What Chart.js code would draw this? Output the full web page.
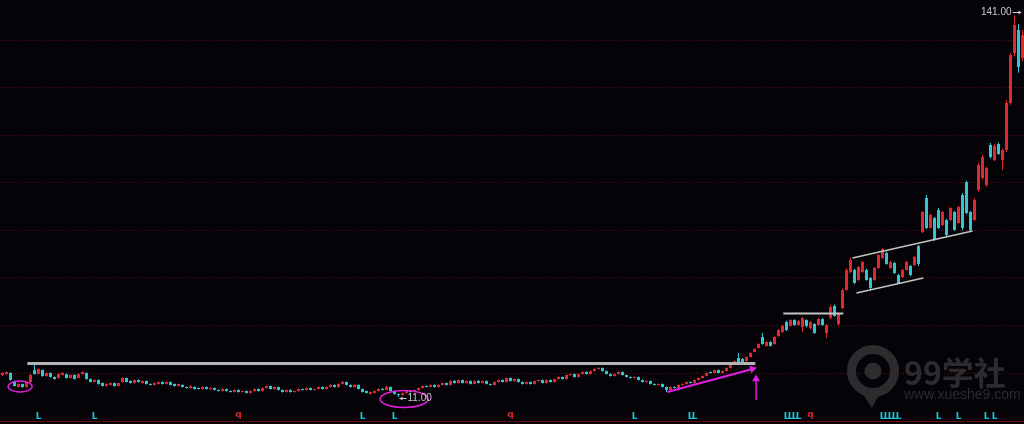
<!DOCTYPE html>
<html>
<head>
<meta charset="utf-8">
<script src="https://cdn.jsdelivr.net/npm/chart.js@4.4.1/dist/chart.umd.min.js"></script>
<style>
  html, body { margin: 0; padding: 0; background: #050308; }
  #wrap { width: 1024px; height: 424px; }
</style>
</head>
<body>
<div id="wrap"><canvas id="kline"></canvas></div>
<script>
// candle prices, one entry per bar (log price axis)
const opens = [
  12.74,12.82,12.91,12.24,11.76,12.00,11.76,12.16,13.17,12.82,
  13.17,12.66,12.91,12.57,12.49,12.74,12.82,12.49,12.74,12.49,
  12.82,12.91,12.40,12.16,12.32,12.08,11.84,11.92,12.08,11.84,
  12.16,12.49,12.24,12.08,12.32,12.08,12.24,12.00,11.92,12.00,
  12.16,12.00,12.16,12.00,11.84,11.92,11.76,11.68,11.76,11.68,
  11.60,11.76,11.60,11.68,11.53,11.45,11.60,11.45,11.37,11.53,
  11.37,11.45,11.30,11.45,11.60,11.45,11.68,11.84,11.60,11.76,
  11.53,11.37,11.53,11.37,11.45,11.60,11.53,11.68,11.53,11.60,
  11.76,11.60,11.76,11.92,11.76,12.00,12.16,11.92,11.76,11.92,
  11.60,11.45,11.22,11.30,11.45,11.60,11.53,11.76,11.45,11.22,
  11.15,11.30,11.45,11.37,11.53,11.68,11.84,11.76,11.92,11.76,
  11.92,12.08,11.92,12.24,12.08,12.32,12.08,12.24,12.00,12.24,
  12.08,12.24,12.00,11.92,12.16,12.32,12.16,12.49,12.24,12.40,
  12.16,12.00,12.16,12.00,12.24,12.32,12.08,12.32,12.16,12.40,
  12.57,12.40,12.74,12.82,12.57,12.82,13.00,12.82,13.08,13.26,
  13.35,13.08,12.82,12.66,12.82,13.00,12.74,12.57,12.49,12.57,
  12.32,12.16,12.24,12.00,11.92,12.00,11.76,11.53,11.76,11.68,
  11.92,12.00,12.16,12.08,12.32,12.49,12.66,13.00,12.91,13.17,
  12.91,13.08,13.35,13.71,14.27,14.18,13.98,14.37,14.86,15.26,
  16.42,15.46,15.88,15.67,16.53,16.98,18.15,17.68,18.40,17.79,
  17.56,18.40,17.44,17.91,17.79,18.52,16.87,18.65,20.20,17.91,
  19.93,22.48,25.35,25.69,24.03,25.35,25.69,24.36,24.03,26.04,
  27.84,28.78,26.04,26.92,24.85,24.52,25.69,26.39,26.57,30.16,
  33.12,41.56,34.01,36.37,38.36,34.70,35.88,35.88,37.85,35.17,
  42.40,46.25,37.85,35.88,43.85,47.50,45.33,59.22,53.58,59.62,
  53.58,57.28,78.40,109.5,127.7,105.9
]
const highs = [
  12.98,13.05,12.95,12.28,12.05,12.04,12.20,12.80,13.78,13.32,
  13.22,12.96,12.95,12.62,12.88,12.98,12.86,12.78,12.78,12.88,
  13.06,12.95,12.44,12.36,12.36,12.12,12.04,12.12,12.12,12.12,
  12.57,12.53,12.28,12.36,12.36,12.28,12.28,12.04,12.12,12.20,
  12.20,12.20,12.20,12.04,12.04,11.96,11.80,11.88,11.80,11.72,
  11.80,11.80,11.74,11.72,11.57,11.64,11.64,11.49,11.57,11.57,
  11.49,11.49,11.49,11.64,11.64,11.72,11.88,11.88,11.80,11.80,
  11.57,11.57,11.57,11.49,11.64,11.64,11.72,11.72,11.64,11.80,
  11.80,11.80,11.96,11.96,12.04,12.24,12.20,11.96,11.96,11.96,
  11.64,11.49,11.41,11.49,11.64,11.68,11.84,11.80,11.49,11.26,
  11.34,11.49,11.49,11.57,11.72,11.88,11.88,11.96,11.96,11.96,
  12.12,12.12,12.28,12.32,12.36,12.36,12.28,12.28,12.28,12.32,
  12.28,12.28,12.04,12.20,12.36,12.36,12.53,12.53,12.44,12.44,
  12.20,12.20,12.20,12.28,12.36,12.36,12.36,12.36,12.44,12.62,
  12.62,12.78,12.88,12.86,12.86,13.04,13.04,13.12,13.32,13.42,
  13.40,13.12,12.86,12.86,13.04,13.04,12.78,12.62,12.62,12.62,
  12.36,12.28,12.28,12.04,12.04,12.04,11.80,11.80,11.80,11.96,
  12.04,12.20,12.20,12.36,12.53,12.70,12.95,13.04,13.22,13.22,
  13.12,13.40,13.76,14.04,14.76,14.27,14.42,14.80,15.22,15.75,
  16.87,15.98,15.95,16.50,17.30,17.80,18.35,18.50,18.50,18.40,
  18.75,18.50,18.25,18.00,18.65,18.60,17.90,20.33,20.40,19.25,
  22.70,26.00,27.84,25.90,26.40,27.30,25.90,24.50,26.20,28.60,
  29.75,29.00,27.30,27.10,25.00,25.85,27.30,26.55,28.20,30.37,
  38.10,42.40,37.40,36.60,38.90,38.10,36.10,39.10,38.10,39.40,
  43.00,46.60,38.10,41.50,52.50,55.40,51.20,60.00,59.60,60.20,
  57.80,80.00,109.5,141.0,133.0,127.7
]
const lows = [
  12.66,12.78,12.28,11.80,11.72,11.70,11.72,12.12,12.78,12.78,
  12.60,12.62,12.53,12.36,12.45,12.70,12.45,12.44,12.36,12.45,
  12.78,12.36,12.12,12.12,11.96,11.80,11.80,11.88,11.80,11.80,
  12.12,12.12,12.04,12.04,12.12,12.04,11.96,11.88,11.88,11.96,
  11.96,11.96,11.88,11.80,11.80,11.72,11.64,11.64,11.56,11.56,
  11.56,11.56,11.56,11.49,11.41,11.41,11.41,11.33,11.33,11.33,
  11.33,11.26,11.26,11.41,11.41,11.41,11.64,11.56,11.56,11.49,
  11.33,11.33,11.33,11.33,11.41,11.49,11.49,11.49,11.49,11.56,
  11.56,11.56,11.72,11.72,11.72,11.96,11.88,11.72,11.72,11.56,
  11.33,11.26,11.18,11.26,11.41,11.49,11.49,11.41,11.18,11.00,
  11.10,11.26,11.33,11.33,11.49,11.64,11.72,11.72,11.72,11.72,
  11.88,11.88,11.88,12.04,12.04,12.04,12.04,11.96,11.96,12.04,
  12.04,11.96,11.88,11.88,12.12,12.12,12.12,12.20,12.20,12.12,
  11.96,11.96,11.96,11.96,12.20,12.04,12.04,12.12,12.12,12.36,
  12.36,12.36,12.70,12.53,12.53,12.78,12.78,12.78,13.04,13.22,
  13.04,12.78,12.62,12.62,12.78,12.70,12.53,12.45,12.45,12.28,
  12.12,12.12,11.96,11.88,11.88,11.72,11.37,11.49,11.64,11.64,
  11.88,11.96,12.04,12.04,12.28,12.45,12.62,12.86,12.86,12.86,
  12.86,13.04,13.30,13.66,13.84,13.84,13.94,14.32,14.80,15.20,
  15.60,15.40,15.40,15.60,16.45,16.90,17.10,17.60,17.70,17.70,
  16.98,17.50,17.30,16.75,17.70,17.68,16.31,18.50,18.80,17.70,
  19.80,22.40,25.20,23.40,23.90,25.20,23.90,22.48,23.90,25.90,
  27.70,26.60,25.90,25.00,23.50,24.40,25.60,24.70,26.40,26.39,
  32.90,33.80,33.90,31.20,33.80,34.50,32.00,35.70,33.40,35.00,
  33.56,37.30,33.12,35.60,43.30,47.00,44.73,54.00,53.20,55.50,
  50.11,56.50,77.50,107.0,96.0,104.0
]
const closes = [
  12.91,13.00,12.32,11.84,12.00,11.76,12.16,12.74,12.82,13.26,
  12.66,12.91,12.57,12.40,12.82,12.91,12.49,12.74,12.40,12.82,
  13.00,12.40,12.16,12.32,12.00,11.84,12.00,12.08,11.84,12.08,
  12.49,12.16,12.08,12.32,12.16,12.24,12.00,11.92,12.08,12.16,
  12.00,12.16,11.92,11.84,12.00,11.76,11.68,11.84,11.60,11.60,
  11.76,11.60,11.68,11.53,11.45,11.60,11.45,11.37,11.53,11.37,
  11.45,11.30,11.45,11.60,11.45,11.68,11.84,11.60,11.76,11.53,
  11.37,11.53,11.37,11.45,11.60,11.53,11.68,11.53,11.60,11.76,
  11.60,11.76,11.92,11.76,12.00,12.16,11.92,11.76,11.92,11.60,
  11.37,11.30,11.37,11.45,11.60,11.53,11.76,11.45,11.22,11.15,
  11.30,11.45,11.37,11.53,11.68,11.84,11.76,11.92,11.76,11.92,
  12.08,11.92,12.24,12.08,12.32,12.08,12.24,12.00,12.24,12.08,
  12.24,12.00,11.92,12.16,12.32,12.16,12.49,12.24,12.40,12.16,
  12.00,12.16,12.00,12.24,12.32,12.08,12.32,12.16,12.40,12.57,
  12.40,12.74,12.82,12.57,12.82,13.00,12.82,13.08,13.26,13.35,
  13.08,12.82,12.66,12.82,13.00,12.74,12.57,12.49,12.57,12.32,
  12.16,12.24,12.00,11.92,12.00,11.76,11.53,11.76,11.68,11.92,
  12.00,12.16,12.08,12.32,12.49,12.66,12.91,12.91,13.17,12.91,
  13.08,13.35,13.71,13.98,13.89,13.89,14.37,14.76,15.16,15.67,
  15.67,15.88,15.46,16.42,17.21,17.68,17.21,18.40,17.79,18.28,
  18.65,17.68,18.15,16.87,18.52,17.79,17.79,20.07,18.90,19.15,
  22.48,25.69,27.47,23.56,26.22,27.11,24.03,22.78,26.04,28.40,
  29.56,26.75,27.11,25.18,23.56,25.69,27.11,24.85,28.03,26.75,
  37.85,34.01,37.10,31.40,34.01,37.85,32.46,38.88,33.56,39.14,
  34.01,37.60,33.56,41.01,51.82,54.66,50.78,54.66,58.83,55.77,
  57.28,78.40,108.0,132.0,99.7,123.5
]

// price axis (log) range and its dotted grid levels
const yMin = 9.37
const yMax = 156.0
const gridPrices = [12.91, 17.74, 24.37, 33.49, 46.02, 63.23, 86.88, 119.4]

// hand-drawn annotations, as [candle index, price]
const supportLine = [[6.2, 13.76], [188.2, 13.76]]
const boxTopLine = [[195.2, 19.21], [210.2, 19.21]]
const channelUpper = [[212.5, 27.84], [242.5, 33.34]]
const channelLower = [[213.5, 22.04], [230.2, 24.36]]
const trendArrow = [[166.2, 11.37], [187.5, 13.26]]
const breakoutArrow = [[188.4, 10.78], [188.4, 12.41]]
const rings = [[4.4, 11.80], [100.4, 10.85]]

// signal marks along the bottom
const signalL = [9, 23, 90, 98, 158, 172, 173, 196, 197, 198, 199, 220, 221, 222, 223, 224, 234, 239, 246, 248]
const signalQ = [59, 127, 202]

const UP = '#dc2a33'
const DOWN = '#38c4cc'
const MAGENTA = '#e41ee4'
const WHITE_LINE = '#c4c4c4'
const ringSize = [[12, 5.5], [24, 8.5]]

const bodies = opens.map((o, i) => ({ x: i, y: [o, closes[i]] }))
const wicks = lows.map((l, i) => ({ x: i, y: [l, highs[i]] }))
const candleColor = ctx => closes[ctx.dataIndex] >= opens[ctx.dataIndex] ? UP : DOWN

function lineSet(points, color, width, arrowRot) {
  return {
    type: 'line',
    data: points.map(p => ({ x: p[0], y: p[1] })),
    borderColor: color,
    borderWidth: width,
    pointRadius: arrowRot == null ? 0 : [0, 4.5],
    pointStyle: 'triangle',
    pointRotation: arrowRot || 0,
    pointBackgroundColor: color,
    pointBorderColor: color,
    pointBorderWidth: 0,
    order: 1
  }
}

const decor = {
  id: 'decor',
  beforeDatasetsDraw(chart) {
    const { ctx, chartArea: a } = chart
    const cx = a.right - 151, cy = a.bottom - 50
    ctx.save()
    ctx.fillStyle = '#2c2c2e'
    ctx.strokeStyle = '#2c2c2e'
    ctx.lineWidth = 9
    ctx.beginPath(); ctx.arc(cx, cy, 21.5, 0, Math.PI * 2); ctx.stroke()
    ctx.beginPath(); ctx.arc(cx, cy, 8.5, 0, Math.PI * 2); ctx.fill()
    ctx.beginPath(); ctx.moveTo(cx - 13, cy + 19); ctx.lineTo(cx + 6, cy + 24); ctx.lineTo(cx - 1, cy + 37); ctx.closePath(); ctx.fill()
    ctx.textAlign = 'left'
    ctx.textBaseline = 'alphabetic'
    ctx.font = 'bold 32px "Noto Sans CJK SC"'
    ctx.fillText('99学社', cx + 31, cy + 14)
    ctx.font = '14px "Liberation Sans", Arial'
    ctx.fillText('www.xueshe9.com', cx + 31, cy + 28)
    ctx.restore()
  },
  afterDatasetsDraw(chart) {
    const { ctx, chartArea: a, scales: { x, y } } = chart
    ctx.save()
    ctx.strokeStyle = MAGENTA
    ctx.lineWidth = 1.5
    rings.forEach((r, k) => {
      ctx.beginPath()
      ctx.ellipse(x.getPixelForValue(r[0]), y.getPixelForValue(r[1]), ringSize[k][0], ringSize[k][1], 0, 0, Math.PI * 2)
      ctx.stroke()
    })

    ctx.font = '10px "Liberation Sans", Arial'
    ctx.fillStyle = '#c8c8c8'
    ctx.strokeStyle = '#c8c8c8'
    ctx.lineWidth = 1
    ctx.textBaseline = 'middle'

    const lo = Math.min(...lows), loI = lows.indexOf(lo)
    let px = x.getPixelForValue(loI), py = Math.round(y.getPixelForValue(lo)) + 1.5
    ctx.beginPath(); ctx.moveTo(px + 1, py); ctx.lineTo(px + 8, py); ctx.stroke()
    ctx.beginPath(); ctx.moveTo(px + 1, py); ctx.lineTo(px + 4, py - 2); ctx.lineTo(px + 4, py + 2); ctx.fill()
    ctx.textAlign = 'left'
    ctx.fillText(lo.toFixed(2), px + 9, py)

    const hi = Math.max(...highs), hiI = highs.indexOf(hi)
    px = x.getPixelForValue(hiI); py = Math.round(y.getPixelForValue(hi)) - 2.5
    ctx.textAlign = 'right'
    ctx.fillText(hi.toFixed(2), px - 3, py)
    ctx.beginPath(); ctx.moveTo(px - 2, py); ctx.lineTo(px + 5, py); ctx.stroke()
    ctx.beginPath(); ctx.moveTo(px + 7, py); ctx.lineTo(px + 4, py - 2); ctx.lineTo(px + 4, py + 2); ctx.fill()

    ctx.textAlign = 'center'
    ctx.textBaseline = 'alphabetic'
    ctx.font = 'bold 9px "DejaVu Sans"'
    ctx.fillStyle = '#1fc6d6'
    signalL.forEach(i => ctx.fillText('L', x.getPixelForValue(i), a.bottom - 2))
    ctx.fillStyle = '#d8262e'
    signalQ.forEach(i => ctx.fillText('q', x.getPixelForValue(i), a.bottom - 4))
    ctx.restore()
  }
}

new Chart(document.getElementById('kline'), {
  type: 'bar',
  data: {
    datasets: [
      { type: 'bar', data: wicks, backgroundColor: candleColor, barThickness: 1, grouped: false, inflateAmount: 0, order: 3 },
      { type: 'bar', data: bodies, backgroundColor: candleColor, barThickness: 3, grouped: false, inflateAmount: 0, order: 2 },
      lineSet(supportLine, '#b4b4b4', 3),
      lineSet(boxTopLine, WHITE_LINE, 2),
      lineSet(channelUpper, WHITE_LINE, 1.5),
      lineSet(channelLower, WHITE_LINE, 1.5),
      lineSet(trendArrow, MAGENTA, 2, 75),
      lineSet(breakoutArrow, MAGENTA, 1.5, 0)
    ]
  },
  options: {
    responsive: true,
    maintainAspectRatio: false,
    animation: false,
    events: [],
    layout: { autoPadding: false, padding: { left: 0, right: 0, top: 0, bottom: 3 } },
    plugins: { legend: { display: false }, tooltip: { enabled: false } },
    scales: {
      x: {
        type: 'linear', min: -0.625, max: 255.375, offset: false,
        ticks: { display: false },
        grid: { display: false, drawTicks: false },
        border: { display: true, color: '#6e0e12', width: 1 }
      },
      y: {
        type: 'logarithmic', min: yMin, max: yMax, bounds: 'data',
        ticks: { display: false },
        grid: { color: '#5e1216', drawTicks: false },
        border: { display: false, dash: [1, 2] },
        afterBuildTicks: axis => { axis.ticks = gridPrices.map(v => ({ value: v })) }
      }
    }
  },
  plugins: [decor]
})
</script>
</body>
</html>
